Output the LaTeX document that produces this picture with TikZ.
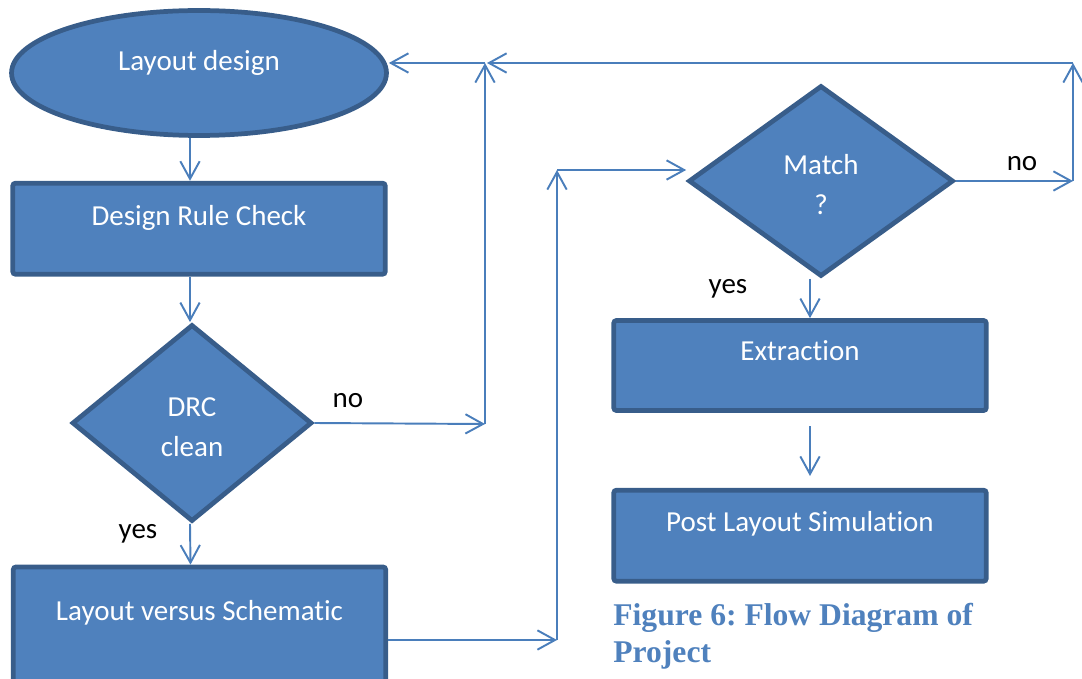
\documentclass[tikz,border=0pt]{standalone}
\usepackage{fontspec}
\setmainfont{Carlito}[RawFeature=-liga]
\newfontfamily\capfont{Liberation Serif}
\usetikzlibrary{positioning,shapes.geometric,arrows.meta}
\definecolor{myfill}{HTML}{4F81BD}
\definecolor{myedge}{HTML}{385D8A}
\definecolor{myline}{HTML}{4A7EBB}
\newcommand{\flowfont}{\fontsize{16.5}{22.7}\selectfont}

\tikzset{
  flowbox/.style={rectangle, rounded corners=1.5pt, line width=2.7pt, draw=myedge, fill=myfill, text=white, font=\flowfont, minimum width=7.45cm, minimum height=1.82cm, text height=0.375cm, text depth=0.56cm},
  flowdiamond/.style={diamond, line width=2.7pt, draw=myedge, fill=myfill, text=white, font=\flowfont, align=center, inner sep=0pt, text height=1.34cm, text depth=0cm},
  flowellipse/.style={ellipse, line width=2.7pt, draw=myedge, fill=myfill, text=white, font=\flowfont, minimum width=7.5cm, minimum height=2.5cm, text height=0.375cm, text depth=0.48cm},
  link/.style={->, draw=myline, line width=1.1pt},
  tag/.style={font=\flowfont, text=black, inner sep=0pt}
}

\begin{document}
\begin{tikzpicture}[x=0.02cm, y=-0.02cm, >={Straight Barb[length=10pt,width=11pt]}]
\useasboundingbox (0,0) rectangle (1082,679);

% Layout design
\node[flowellipse] (layout) at (199,73) {Layout design};

% Design Rule Check
\node[flowbox, text depth=0.52cm, below=0.86cm of layout] (drc) {Design Rule Check};

% DRC clean
\node[flowdiamond, minimum width=4.8cm, minimum height=3.94cm] (clean) at (192,423) {DRC\\clean};

% Layout versus Schematic
\node[flowbox, minimum height=2.4cm, text depth=0.64cm] (lvs) at (199.5,627) {Layout versus Schematic};

% Match ?
\node[flowdiamond, minimum width=5.3cm, minimum height=3.82cm] (match) at (821,181) {Match\\?};

% Extraction
\node[flowbox, minimum height=1.8cm] (ext) at (800,365.5) {Extraction};

% Post Layout Simulation
\node[flowbox, below=1.5cm of ext] (post) {Post Layout Simulation};

% yes / no labels
\node[tag] (nodrc) at (348,401) {no};
\node[tag] (yesdrc) at (138,534) {yes};
\node[tag] (nomatch) at (1022,164) {no};
\node[tag] (yesmatch) at (728,289) {yes};

% caption
\node[anchor=north west, inner sep=0pt, align=left, text=myfill, font={\capfont\bfseries\fontsize{18}{21}\selectfont\frenchspacing}] (caption) at (613,603) {Figure 6: Flow Diagram of\\Project};

% bends of the connectors
\coordinate (drcno) at (485,424);
\coordinate (drcup) at (485,63);
\coordinate (topright) at (1073,63);
\coordinate (matchno) at (1073,181);
\coordinate (lvsout) at (557,640);
\coordinate (lvsup) at (557,170);
\coordinate (matchx) at (810,0);
\coordinate (exttop) at (810,426);
\coordinate (postin) at (810,476);

% left column
\draw[link] ([shift={(-9,0)}]layout.south) -- ([shift={(-9,0)}]drc.north);
\draw[link] ([shift={(-9,0)}]drc.south) -- ([shift={(-2,0)}]clean.north);
\draw[link] ([shift={(-2,0)}]clean.south) -- ([shift={(-9,0)}]lvs.north);

% DRC not clean, back to layout
\draw[link] (clean.east) -- (drcno);
\draw[link] (drcno) -- (drcup);
\draw[link] (drcup) -- (drcup -| layout.east);

% LVS to match
\draw[link] (lvs.east |- lvsout) -- (lvsout);
\draw[link] (lvsout) -- (lvsup);
\draw[link] (lvsup) -- (lvsup -| match.west);

% no match, back to layout
\draw[link] (match.east) -- (matchno);
\draw[link] (matchno) -- (topright);
\draw[link] (topright) -- ([shift={(2,0)}]drcup);

% right column
\draw[link] (match.south -| matchx) -- (ext.north -| matchx);
\draw[link] (exttop) -- (postin);

\end{tikzpicture}
\end{document}
